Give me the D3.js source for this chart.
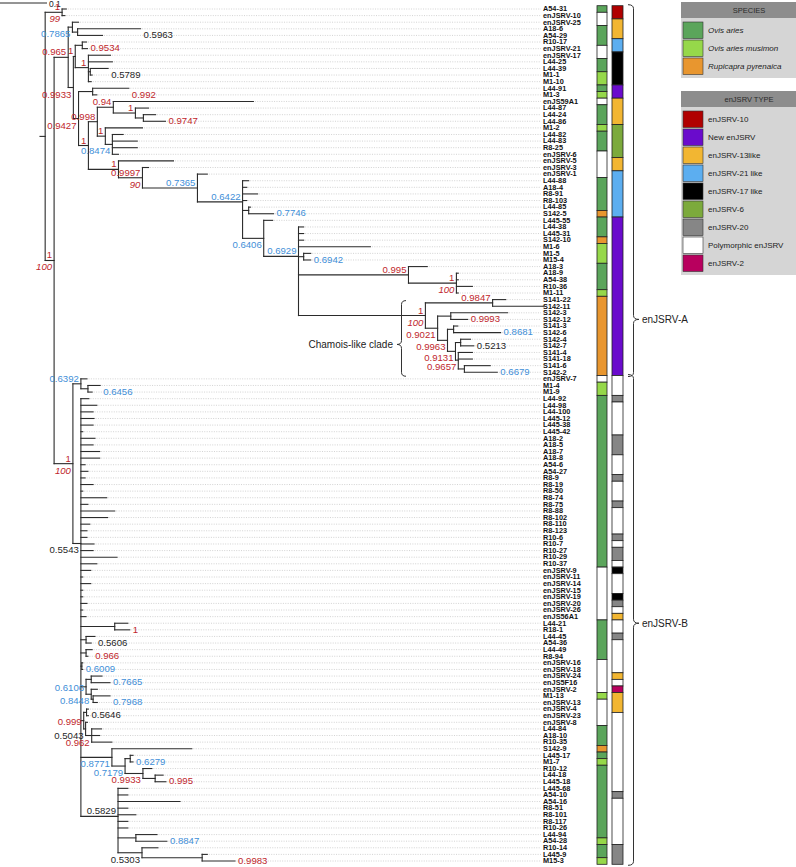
<!DOCTYPE html>
<html><head><meta charset="utf-8">
<script src="https://cdn.jsdelivr.net/npm/d3@7"></script>
<style>
body{margin:0;background:#fff}
svg{display:block}
text{font-family:"Liberation Sans",Arial,Helvetica,sans-serif}
</style>
</head><body>
<svg id="chart" width="796" height="867"></svg>
<script>
// ---------------- DATA ----------------
// Phylogeny (branch lengths in substitutions/site).
// Internal labels: "posterior|bootstrap"; @r = right of clade, @l = right of last child, @b = below-left, @m = mid-left (default above-left)
const cladeChamois =
"((S141-22:0.028,S142-11:0.109)0.9847:0.143,((S142-3:0.121,S142-12:0.036)0.9993@l:0.028,((S141-3:0.009,S142-6:0.100)0.8681@r:0.013," +
"((S142-4:0.021,S142-7:0.028)0.5213@r:0.011,(S141-4:0.030,S141-18:0.030,(S141-6:0.055,S142-2:0.070)0.6679@r:0.013)0.9657@b:0.006)0.9131@b:0.017)0.9963@b:0.021)0.9021@b:0.026)1|100:0.270";

const cladeB =
"((enJSRV-7:0.013,(M1-4:0.026,M1-9:0.009)0.6456@r:0.015)0.6392:0.017," +
"(L44-92:0.017,L44-98:0.034,L44-100:0.026,L445-12:0.028,L445-38:0.026,L445-42:0.004,A18-2:0.030,A18-5:0.026,A18-7:0.040,A18-8:0.040," +
"A54-6:0.009,A54-27:0.015,R8-9:0.009,R8-19:0.026,R8-50:0.004,R8-74:0.055,R8-75:0.015,R8-88:0.072,R8-102:0.057,R8-110:0.019,R8-123:0.013," +
"R10-6:0.013,R10-7:0.028,R10-27:0.026,R10-29:0.077,R10-37:0.034,enJSRV-9:0.021,enJSRV-11:0.004,enJSRV-14:0.021,enJSRV-15:0.004," +
"enJSRV-19:0.004,enJSRV-20:0.013,enJSRV-26:0.004,enJS56A1:0.011," +
"(L44-21:0.028,R18-1:0.032)1@r:0.072,(L44-45:0.019,A54-36:0.011)0.5606@r:0.011,(L44-49:0.013,R8-94:0.004)0.966@r:0.011," +
"(enJSRV-16:0.002,enJSRV-18:0.002)0.6009@r:0.002," +
"((enJSRV-24:0.023,enJS5F16:0.040)0.7665@r:0.011,(enJSRV-2:0.013,(M1-13:0.036,enJSRV-13:0.009)0.7968@r:0.004)0.8448@b:0.011)0.6106@m:0.011," +
"((enJSRV-4:0.004,enJSRV-23:0.004)0.5646@r:0.006,(enJSRV-8:0.004,(L44-84:0.021,A18-10:0.017,R10-35:0.043)0.962@b:0.013)0.5043@b:0.004)0.999@m:0.006," +
"(S142-9:0.170,((L445-17:0.006,M1-7:0.006)0.6279@r:0.011,(R10-12:0.019,(L44-18:0.017,L445-18:0.023)0.995@r:0.026)0.9933@b:0.038)0.7179@b:0.028)0.8771@b:0.066," +
"(L445-68:0.021,A54-10:0.021,A54-16:0.132,R8-51:0.021,R8-101:0.038,R8-117:0.021,R10-26:0.021,(L44-94:0.045,A54-28:0.066)0.8847@r:0.038," +
"(R10-14:0.034,(L445-9:0.011,M15-3:0.070)0.9983@r:0.128)0.5303@b:0.051)0.5829:0.079" +
")0.5543@b:0.017)1|100:0.040";

const treeNewick =
"((A54-31:0.009,enJSRV-10:0.006)1|99:0.036," +
 "(" +
  "(" +
   "(enJSRV-25:0.013,(A18-6:0.134,A54-29:0.053)0.5963@r:0.011)0.7865@b:0.009," +
   "(" +
    "((R10-17:0.009,enJSRV-21:0.011)0.9534@r:0.015,(enJSRV-17:0.047,L44-25:0.051,(L44-39:0.038,M1-1:0.004)0.5789@r:0.004,M1-10:0.006)1:0.028)1:0.004," +
    "(" +
     "(L44-91:0.077,M1-3:0.009)0.992@r:0.030," +
     "(" +
      "(" +
       "(enJS59A1:0.298,(L44-87:0.028,(L44-24:0.026,L44-86:0.047)0.9747@r:0.017)1:0.047)0.94:0.034," +
       "(M1-2:0.079,(L44-82:0.023,L44-83:0.053,R8-25:0.053,enJSRV-6:0.013)0.8474@b:0.015)1:0.017" +
      ")0.998:0.019," +
      "(enJSRV-5:0.117," +
       "(enJSRV-3:0.013," +
        "(enJSRV-1:0.021," +
         "(L44-88:0.013,A18-4:0.009,R8-91:0.032,R8-103:0.009,(L44-85:0.004,S142-5:0.053)0.7746@r:0.013," +
          "(L445-55:0.019," +
           "(L44-38:0.011,L445-31:0.011,S142-10:0.011,M1-6:0.153,(M1-5:0.015,M15-4:0.015)0.6942@r:0.011," +
            "(A18-3:0.040,(A18-9:0.004,A54-38:0.004,R10-36:0.034,M1-11:0.004)1|100:0.102)0.995:0.234," +
            cladeChamois +
           ")0.6929:0.074" +
          ")0.6406@b:0.045" +
         ")0.6422:0.096" +
        ")0.7365:0.117" +
       ")0.9997|90:0.051" +
      ")1:0.064" +
     ")1:0.021" +
    ")0.9427@b:0.011" +
   ")0.9933@b:0.011" +
  ")0.965:0.030," +
  cladeB +
 ")1|100:0.019" +
"):0.011;";

// species per leaf, in tip order (O = Ovis aries, M = Ovis aries musimon, R = Rupicapra pyrenaica, - = none)
const leafSpecies = (
  "O - - O O O - - O O " + "M M O M - O O O M O " + "O O - - - - O O O O " + "O R O O O R M M M O " +
  "O O O M R R R R R R " + "R R R R R R - M M O " + "O O O O O O O O O O " + "O O O O O O O O O O " +
  "O O O O O - - - - - " + "- - - O O O O O O - " + "- - - - M - - - - O " + "O O R O M O O O O O " +
  "O O O O O O M O O M").trim().split(" ");

// enJSRV type per leaf, in tip order
const leafType = (
  "a a y y y b b k k k " + "k k n n y y y y g g " + "g g g y y b b b b b " + "b b n n n n n n n n " +
  "n n n n n n n n n n " + "n n n n n n w w w s " + "w w w w w s s s w w " + "w s w w w s w w w w " +
  "s w s s w k w w w k " + "s w y w w s w w w w " + "w y w m y y y w w w " + "w w w w w w w w w s " +
  "w w w w w w w s s s").trim().split(" ");

const speciesCodes  = ["O", "M", "R"];
const speciesNames  = ["Ovis aries", "Ovis aries musimon", "Rupicapra pyrenaica"];
const speciesColors = ["#5ba55b", "#96d84a", "#e8962f"];

const typeCodes  = ["a", "n", "y", "b", "k", "g", "s", "w", "m"];
const typeNames  = ["enJSRV-10", "New enJSRV", "enJSRV-13like", "enJSRV-21 like", "enJSRV-17 like", "enJSRV-6", "enJSRV-20", "Polymorphic enJSRV", "enJSRV-2"];
const typeColors = ["#b00000", "#6a0bcc", "#f2b632", "#5caef0", "#000000", "#7caa3c", "#868686", "#ffffff", "#b8005e"];

const cladeNames = ["enJSRV-A", "enJSRV-B"];
const cladeFirst = ["A54-31", "enJSRV-7"];
const cladeLast  = ["S142-2", "M15-3"];
const cladeTip   = ["S142-12", "L44-21"];
const subClade   = {name: "Chamois-like clade", first: "S141-22", last: "S142-2", tip: "S141-4"};
const scaleBarValue = 0.1;

// ---------------- PARSE ----------------
function parseNewick(s) {
  let i = 0;
  function node() {
    const n = {children: []};
    if (s[i] === "(") {
      i++;
      n.children.push(node());
      while (s[i] === ",") { i++; n.children.push(node()); }
      i++;
    }
    let name = "";
    while (i < s.length && !",):;".includes(s[i])) name += s[i++];
    n.length = 0;
    if (s[i] === ":") {
      i++;
      let num = "";
      while (i < s.length && !",);".includes(s[i])) num += s[i++];
      n.length = +num;
    }
    n.name = name;
    return n;
  }
  return node();
}

const root = d3.hierarchy(parseNewick(treeNewick), d => d.children.length ? d.children : null);
root.eachBefore(d => { d.dist = (d.parent ? d.parent.dist : 0) + d.data.length; });
const leaves = root.leaves();
const leafNames = leaves.map(d => d.data.name);

// ---------------- SCALES ----------------
const x = d3.scaleLinear().domain([0, 0.1]).range([40, 87]);
const y = d3.scalePoint().domain(leafNames).range([9, 861]);
const step = y.step();

leaves.forEach(d => { d.py = y(d.data.name); });
root.eachAfter(d => { if (d.children) d.py = d3.mean(d.children, c => c.py); });
root.each(d => { d.px = x(d.dist); });
root.eachAfter(d => { d.maxX = d.children ? d3.max(d.children, c => c.maxX) : d.px; });

const svg = d3.select("#chart");
const treeColor = "#2b2b2b";

// leader dotted lines
const labelX = 543;
svg.append("g").selectAll("line").data(leaves).join("line")
  .attr("x1", d => d.px + 1.5).attr("x2", labelX - 2)
  .attr("y1", d => d.py).attr("y2", d => d.py)
  .attr("stroke", "#b5b5b5").attr("stroke-width", 0.6).attr("stroke-dasharray", "1,1.4");

// branches
const gT = svg.append("g").attr("stroke", treeColor).attr("stroke-width", 1.1).attr("fill", "none").attr("stroke-linecap", "square");
gT.selectAll("line.h").data(root.descendants().filter(d => d.parent)).join("line")
  .attr("x1", d => d.parent.px).attr("x2", d => d.px)
  .attr("y1", d => d.py).attr("y2", d => d.py);
gT.selectAll("line.v").data(root.descendants().filter(d => d.children)).join("line")
  .attr("x1", d => d.px).attr("x2", d => d.px)
  .attr("y1", d => d3.min(d.children, c => c.py)).attr("y2", d => d3.max(d.children, c => c.py));
gT.append("line").attr("x1", x(0)).attr("x2", root.px).attr("y1", root.py).attr("y2", root.py);

// scale bar
svg.append("line").attr("x1", x(0) - 40).attr("x2", x(scaleBarValue) - 40).attr("y1", 3).attr("y2", 3)
  .attr("stroke", treeColor).attr("stroke-width", 1);
svg.append("text").attr("x", x(scaleBarValue) - 38).attr("y", 7).attr("font-size", 8.5).attr("fill", "#222").text(String(scaleBarValue));

// support labels
function supColor(v) { return v >= 0.9 ? "#c0262c" : v >= 0.6 ? "#3f8fd8" : "#1f1f1f"; }
const gS = svg.append("g").attr("font-size", 9.6);
root.descendants().filter(d => d.children && d.data.name).forEach(d => {
  const [vals, side] = d.data.name.split("@");
  const [pp, bs] = vals.split("|");
  const col = supColor(+pp);
  if (side === "r" || side === "l") {
    const xr = side === "r" ? d.maxX : d.children[d.children.length - 1].maxX;
    gS.append("text").attr("x", xr + 3).attr("y", d.py + 6).attr("fill", col).text(pp);
  } else {
    const dy = side === "b" ? 10 : side === "m" ? 4 : -2;
    gS.append("text").attr("x", d.px - 2).attr("y", d.py + dy).attr("text-anchor", "end").attr("fill", col).text(pp);
    if (bs) gS.append("text").attr("x", d.px - 2).attr("y", d.py + dy + 12).attr("text-anchor", "end")
      .attr("fill", col).attr("font-style", "italic").text(bs);
  }
});

// leaf labels (slightly widened glyphs so the line height fits the tip spacing)
svg.append("g").selectAll("text").data(leaves).join("text")
  .attr("transform", d => `translate(${labelX},${d.py + 2.3}) scale(1.13,1)`)
  .attr("font-size", 6.5).attr("font-weight", "bold").attr("fill", "#111")
  .text(d => d.data.name);

// color columns
function runs(codes) {
  const out = [];
  codes.forEach((c, i) => {
    if (out.length && out[out.length - 1].code === c) out[out.length - 1].end = i;
    else out.push({code: c, start: i, end: i});
  });
  return out;
}
function drawColumn(codes, x0, w, codeList, colors) {
  svg.append("g").selectAll("rect").data(runs(codes)).join("rect")
    .attr("x", x0).attr("width", w)
    .attr("y", d => y(leafNames[d.start]) - step / 2)
    .attr("height", d => y(leafNames[d.end]) - y(leafNames[d.start]) + step)
    .attr("fill", d => codeList.indexOf(d.code) >= 0 ? colors[codeList.indexOf(d.code)] : "#fff")
    .attr("stroke", "#222").attr("stroke-width", 0.8);
}
drawColumn(leafSpecies, 597, 10, speciesCodes, speciesColors);
drawColumn(leafType, 612, 11, typeCodes, typeColors);

// braces
function braceRight(x0, y0, y1, yt, w) {
  const xm = x0 + w * 0.5, r = 4;
  return `M${x0},${y0} Q${xm},${y0} ${xm},${y0 + r} L${xm},${yt - r} Q${xm},${yt} ${x0 + w},${yt} Q${xm},${yt} ${xm},${yt + r} L${xm},${y1 - r} Q${xm},${y1} ${x0},${y1}`;
}
function braceLeft(x0, y0, y1, yt, w) {
  const xm = x0 - w * 0.5, r = 4;
  return `M${x0},${y0} Q${xm},${y0} ${xm},${y0 + r} L${xm},${yt - r} Q${xm},${yt} ${x0 - w},${yt} Q${xm},${yt} ${xm},${yt + r} L${xm},${y1 - r} Q${xm},${y1} ${x0},${y1}`;
}
cladeNames.forEach((nm, i) => {
  const y0 = y(cladeFirst[i]) - step / 2 - 1, y1 = y(cladeLast[i]) + step / 2 + 1, yt = y(cladeTip[i]);
  svg.append("path").attr("d", braceRight(628, y0, y1, yt, 11)).attr("fill", "none").attr("stroke", "#333").attr("stroke-width", 1);
  svg.append("text").attr("x", 642).attr("y", yt + 3.5).attr("font-size", 10).attr("fill", "#222").text(nm);
});
{
  const y0 = y(subClade.first) + 1, y1 = y(subClade.last) + 4, yt = y(subClade.tip) - 8;
  svg.append("path").attr("d", braceLeft(406, y0, y1, yt, 9)).attr("fill", "none").attr("stroke", "#333").attr("stroke-width", 1);
  svg.append("text").attr("x", 393).attr("y", yt + 3.5).attr("text-anchor", "end").attr("font-size", 10).attr("fill", "#222").text(subClade.name);
}

// legends
function legend(y0, title, names, colors, italic) {
  const g = svg.append("g");
  const pitch = 18, bodyH = names.length * pitch + 6;
  g.append("rect").attr("x", 681).attr("y", y0).attr("width", 115).attr("height", 16 + bodyH).attr("fill", "#d5d5d5");
  g.append("rect").attr("x", 681).attr("y", y0).attr("width", 115).attr("height", 16).attr("fill", "#8d8d8d");
  g.append("text").attr("x", 749).attr("y", y0 + 11).attr("text-anchor", "middle").attr("font-size", 7.5).attr("fill", "#2a2a2a").text(title);
  names.forEach((n, i) => {
    const yy = y0 + 16 + 4 + i * pitch;
    g.append("rect").attr("x", 683).attr("y", yy).attr("width", 20).attr("height", 16.5).attr("fill", colors[i]).attr("stroke", "#333").attr("stroke-width", 0.6);
    g.append("text").attr("x", 708).attr("y", yy + 11).attr("font-size", 8).attr("fill", "#222")
      .attr("font-style", italic ? "italic" : "normal").text(n);
  });
}
legend(2, "SPECIES", speciesNames, speciesColors, true);
legend(91, "enJSRV TYPE", typeNames, typeColors, false);
</script>
</body></html>
